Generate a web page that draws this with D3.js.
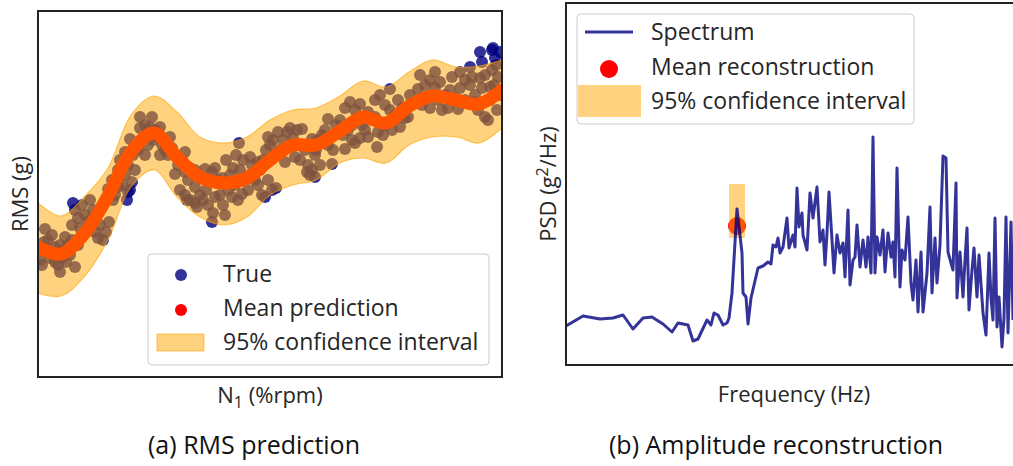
<!DOCTYPE html>
<html>
<head>
<meta charset="utf-8">
<script src="https://cdn.jsdelivr.net/npm/d3@7"></script>
<style>
  body { margin: 0; background: #fff; }
  text { font-family: "Open Sans", sans-serif; fill: #262626; }
</style>
</head>
<body>
<div id="svgWrapper"></div>
<script>
// ---- (a) RMS prediction ----
var gridN1 = [53.8, 56.1, 58.4, 60.8, 63.1, 65.4, 67.7, 70.0, 72.4, 74.7, 77.0, 79.3, 81.6, 84.0, 86.3, 88.6, 90.9, 93.2, 95.6, 97.9, 100.2];
var meanRMS = [13.0, 12.3, 14.3, 18.1, 22.5, 24.4, 22.0, 20.0, 19.4, 19.9, 21.7, 23.2, 23.2, 24.6, 26.0, 25.4, 27.1, 28.1, 27.7, 27.3, 28.7];
var upperRMS = [17.4, 16.1, 18.0, 20.9, 26.2, 28.1, 26.5, 24.0, 23.4, 24.0, 25.7, 26.7, 26.9, 28.1, 29.6, 29.0, 30.5, 31.7, 31.0, 31.1, 31.7];
var lowerRMS = [8.4, 8.1, 10.0, 13.7, 19.0, 20.7, 18.0, 16.0, 15.2, 16.0, 18.2, 19.2, 19.7, 21.4, 21.9, 21.4, 23.2, 24.0, 24.0, 23.4, 24.9];

// measured points [N1, RMS]
var trueRMS = [
  [54.0,11.7],[54.5,12.7],[54.8,13.7],[55.2,14.2],[55.5,11.5],[55.8,11.2],[56.2,11.9],[56.6,11.5],[57.0,12.2],[54.2,11.2],[55.0,11.9],[56.0,13.2],[56.8,13.2],[57.2,13.7],[54.4,13.5],[56.4,12.7],
  [57.5,16.7],[57.8,15.9],[58.2,17.2],[58.5,16.2],[58.8,15.5],[59.0,17.7],[59.3,16.7],[59.5,14.5],[59.8,13.9],[60.0,15.2],[60.3,13.7],[60.6,14.5],[58.0,14.9],[57.2,15.2],[60.9,15.5],[57.3,17.4],
  [61.2,19.7],[61.5,18.2],[61.8,20.7],[62.0,21.7],[62.2,19.2],[62.5,20.2],[62.8,21.2],[63.0,18.7],[63.3,22.2],[63.5,20.7],[63.7,22.9],[62.7,17.7],[63.2,19.5],[62.8,18.5],[61.3,17.7],
  [64.0,24.9],[64.5,25.2],[65.0,25.0],[65.5,24.7],[64.2,23.7],[64.8,23.2],[65.3,23.7],[65.8,24.0],[66.2,23.2],[66.5,22.7],[66.8,22.2],[67.2,22.9],[64.5,22.2],[66.0,22.2],[63.8,22.7],
  [67.8,21.2],[68.2,21.7],[68.5,20.5],[68.8,19.7],[69.0,20.9],[69.5,20.7],[69.8,20.2],[70.0,18.2],[70.3,17.7],[70.6,18.7],[70.8,17.2],[68.5,18.2],[69.0,17.7],[69.5,17.4],[68.0,18.7],[71.0,19.7],[71.2,20.5],[71.5,20.9],[68.7,17.7],[69.7,17.0],[71.3,16.4],
  [71.8,19.7],[72.0,18.2],[72.3,17.2],[72.5,16.2],[72.8,18.7],[73.0,20.2],[73.3,20.9],[73.5,19.2],[73.8,17.7],[74.0,20.7],[74.3,21.7],[74.5,19.9],[74.8,18.7],[75.0,20.2],[75.2,21.2],[75.5,19.7],[71.2,15.5],[73.9,23.4],[73.6,22.2],[72.6,21.7],
  [75.8,19.2],[76.0,20.7],[76.3,21.7],[76.6,22.7],[77.0,23.2],[77.3,23.7],[77.6,22.2],[78.0,22.7],[78.3,23.7],[78.7,24.5],[79.0,24.9],[79.3,23.9],[79.7,24.7],[80.0,23.2],[76.2,18.2],[76.8,19.7],[77.2,18.7],[77.6,18.9],[76.5,18.0],
  [80.0,21.7],[80.5,22.7],[80.8,21.2],[81.2,20.7],[81.5,22.2],[81.8,23.7],[82.2,24.2],[82.5,24.7],[82.8,23.2],[83.3,22.7],[83.6,25.2],[84.0,25.7],[84.3,24.2],[81.0,20.2],[82.0,21.2],[81.6,22.7],[80.7,20.5],[81.5,20.0],
  [84.5,26.9],[85.0,27.5],[85.5,26.7],[85.8,25.9],[86.2,25.2],[86.5,24.7],[84.8,24.7],[85.2,23.7],[86.0,23.9],[86.8,26.5],[87.2,25.7],[85.5,23.4],[87.7,23.0],
  [87.5,27.7],[88.0,28.2],[88.5,27.2],[89.0,26.7],[89.5,26.2],[89.8,27.7],[90.2,26.9],[90.5,25.9],[91.0,28.2],[88.5,25.2],[89.2,24.7],[87.8,24.5],[91.5,27.4],
  [92.5,29.2],[93.0,29.7],[93.5,28.9],[94.0,29.5],[94.5,28.2],[95.0,28.7],[95.5,27.9],[96.0,28.9],[96.5,27.7],[94.8,26.9],[97.0,29.2],[93.8,27.7],[93.0,26.9],[97.2,30.0],
  [97.5,28.2],[97.8,26.7],[98.2,28.9],[98.5,30.2],[99.0,27.7],[99.4,29.2],[99.7,26.7],[100.0,28.2],[98.8,25.7],[99.2,30.7],[99.6,31.2],[98.0,29.9],[97.0,31.0],[98.0,32.5],[99.3,32.9],[99.5,31.9],[99.2,32.7],[100.0,32.5],
  [55.5,13.0],[56.5,14.0],[57.8,13.2],[58.5,14.5],[59.2,15.8],[60.2,17.0],[60.8,18.8],[61.8,19.0],[62.5,22.5],[63.0,23.8],[64.0,26.0],[65.2,26.0],[66.0,25.0],[67.0,24.0],[67.5,20.3],[68.5,22.5],[69.5,19.0],[70.5,20.8],[71.5,18.0],[72.2,19.9],
  [73.2,18.0],[74.2,18.3],[75.0,22.0],[75.8,21.5],[76.8,24.0],[77.8,24.5],[78.5,21.5],[79.5,22.0],[80.2,24.8],[81.2,23.8],[82.8,25.8],[83.2,21.3],[84.5,22.8],[85.2,25.2],[86.0,27.3],[86.8,24.0],[87.5,26.0],[88.3,24.2],[89.0,28.8],[90.0,25.0],
  [90.8,26.0],[91.8,28.8],[92.2,27.2],[93.5,30.5],[94.2,26.7],[95.2,30.0],[95.8,26.8],[96.5,29.7],[97.4,27.5],[98.5,26.0],[99.0,29.0],[99.8,30.0],[98.2,31.5],[96.0,30.5],[92.0,30.2],[54.5,14.8],[56.0,10.5],[57.5,11.0]
];

// ---- (b) Amplitude reconstruction ----
var freqHz = [0,17,34,47,57,67,77,86,97,106,112,122,127,132,141,145,148,152,157,161,163,166,171,176,177,180,182,185,192,197,202,205,207,210,212,214,217,221,223,227,229,231,233,236,237,241,244,247,251,254,257,259,261,263,266,268,271,274,277,279,282,284,287,289,291,294,297,300,302,305,307,309,311,314,317,319,322,325,327,329,331,334,336,339,342,345,347,350,352,355,357,361,364,366,369,371,374,377,380,382,385,387,390,391,394,397,399,401,403,406,408,411,413,417,420,423,425,427,429,431,433,436,438,440,442,445,447];
var psd = [3.9,4.9,4.6,4.7,5.0,3.6,4.7,4.8,4.1,3.3,4.2,4.0,2.4,2.6,4.5,4.0,5.2,5.0,4.0,4.2,4.7,7.2,15.6,11.2,7.2,6.8,4.1,6.7,9.7,9.9,10.3,10.1,12.0,11.8,12.7,11.2,11.8,14.7,11.7,13.0,11.8,17.7,13.8,15.2,13.0,11.5,17.2,14.7,17.8,12.3,13.5,10.0,13.2,17.3,12.5,9.2,13.0,11.2,12.2,8.8,15.5,8.0,10.5,10.8,14.0,9.8,12.5,9.8,12.8,9.2,22.8,9.2,12.8,11.0,13.5,9.3,13.2,10.8,12.3,8.8,19.7,7.8,11.5,10.5,14.8,8.2,6.5,10.5,5.3,11.3,5.3,9.2,15.8,7.2,12.7,8.2,12.0,20.9,20.7,11.3,10.2,9.5,18.2,6.7,11.3,6.8,10.5,13.7,5.5,9.5,11.7,6.8,11.0,5.2,3.0,11.2,6.7,4.5,14.7,3.8,6.8,1.8,4.7,14.8,3.2,14.3,4.5];
var reconFreq = 171, reconMean = 13.9;
var reconBand = [163, 179];   // Hz
var reconCI = [12.7, 18.1];

var W = 1013, H = 466;
var svg = d3.select("#svgWrapper").append("svg").attr("width", W).attr("height", H);

var defs = svg.append("defs");
defs.append("clipPath").attr("id", "clipA").append("rect").attr("x", 38).attr("y", 11).attr("width", 464).attr("height", 366);
defs.append("clipPath").attr("id", "clipB").append("rect").attr("x", 566).attr("y", 3).attr("width", 450).attr("height", 362);

// ---------- panel a ----------
var xA = d3.scaleLinear().domain([53.8, 100.2]).range([38, 502]);
var yA = d3.scaleLinear().domain([0, 36.6]).range([377, 11]);

var gA = svg.append("g").attr("clip-path", "url(#clipA)");

gA.selectAll("circle.true").data(trueRMS).enter().append("circle")
  .attr("class", "true")
  .attr("cx", d => xA(d[0])).attr("cy", d => yA(d[1])).attr("r", 6)
  .attr("fill", "navy").attr("fill-opacity", 0.8);

var meanLine = d3.line().x((d, i) => xA(gridN1[i])).y(d => yA(d)).curve(d3.curveCatmullRom);
gA.append("path").datum(meanRMS).attr("d", meanLine)
  .attr("fill", "none").attr("stroke", "red").attr("stroke-width", 13).attr("stroke-linecap", "round");

var band = d3.area().x((d, i) => xA(gridN1[i])).y0((d, i) => yA(lowerRMS[i])).y1(d => yA(d)).curve(d3.curveCatmullRom);
gA.append("path").datum(upperRMS).attr("d", band)
  .attr("fill", "orange").attr("fill-opacity", 0.5)
  .attr("stroke", "orange").attr("stroke-opacity", 0.6).attr("stroke-width", 1.2);

svg.append("rect").attr("x", 38).attr("y", 11).attr("width", 464).attr("height", 366)
  .attr("fill", "none").attr("stroke", "#222").attr("stroke-width", 2);

// legend a
var lgA = svg.append("g");
lgA.append("rect").attr("x", 148).attr("y", 254).attr("width", 341).attr("height", 111).attr("rx", 4)
  .attr("fill", "white").attr("fill-opacity", 0.8).attr("stroke", "#ccc");
lgA.append("circle").attr("cx", 181).attr("cy", 275).attr("r", 6).attr("fill", "navy").attr("fill-opacity", 0.8);
lgA.append("circle").attr("cx", 181).attr("cy", 310).attr("r", 6).attr("fill", "red");
lgA.append("rect").attr("x", 157).attr("y", 334).attr("width", 47).attr("height", 17)
  .attr("fill", "orange").attr("fill-opacity", 0.5).attr("stroke", "orange").attr("stroke-opacity", 0.6);
["True", "Mean prediction", "95% confidence interval"].forEach(function(t, i) {
  lgA.append("text").attr("x", 223).attr("y", 274 + i * 34).attr("dy", "0.35em")
    .style("font-size", "23px").text(t);
});

svg.append("text").attr("transform", "translate(20,194) rotate(-90)").attr("text-anchor", "middle")
  .attr("dy", "0.35em").style("font-size", "22px").text("RMS (g)");
var nl = svg.append("text").attr("x", 270).attr("y", 403).attr("text-anchor", "middle").style("font-size", "22px");
nl.append("tspan").text("N");
nl.append("tspan").attr("dy", 5).style("font-size", "16px").text("1");
nl.append("tspan").attr("dy", -5).text(" (%rpm)");

// ---------- panel b ----------
var xB = d3.scaleLinear().domain([0, 450]).range([566, 1016]);
var yB = d3.scaleLinear().domain([0, 36.2]).range([365, 3]);
var gB = svg.append("g").attr("clip-path", "url(#clipB)");

gB.append("circle").attr("cx", xB(reconFreq)).attr("cy", yB(reconMean)).attr("r", 9)
  .attr("fill", "red");
gB.append("rect").attr("x", xB(reconBand[0])).attr("y", yB(reconCI[1]))
  .attr("width", xB(reconBand[1]) - xB(reconBand[0])).attr("height", yB(reconCI[0]) - yB(reconCI[1]))
  .attr("fill", "orange").attr("fill-opacity", 0.5);

var specLine = d3.line().x((d, i) => xB(freqHz[i])).y(d => yB(d));
gB.append("path").datum(psd).attr("d", specLine)
  .attr("fill", "none").attr("stroke", "navy").attr("stroke-opacity", 0.8)
  .attr("stroke-width", 3).attr("stroke-linejoin", "round");

svg.append("rect").attr("x", 566).attr("y", 3).attr("width", 460).attr("height", 362)
  .attr("fill", "none").attr("stroke", "#222").attr("stroke-width", 2);

// legend b
var lgB = svg.append("g");
lgB.append("rect").attr("x", 577).attr("y", 14).attr("width", 337).attr("height", 110).attr("rx", 4)
  .attr("fill", "white").attr("fill-opacity", 0.8).attr("stroke", "#ccc");
lgB.append("line").attr("x1", 585).attr("x2", 633).attr("y1", 32).attr("y2", 32)
  .attr("stroke", "navy").attr("stroke-opacity", 0.8).attr("stroke-width", 3);
lgB.append("circle").attr("cx", 609).attr("cy", 69).attr("r", 9).attr("fill", "red");
lgB.append("rect").attr("x", 578).attr("y", 85).attr("width", 63).attr("height", 32)
  .attr("fill", "orange").attr("fill-opacity", 0.5);
["Spectrum", "Mean reconstruction", "95% confidence interval"].forEach(function(t, i) {
  lgB.append("text").attr("x", 651).attr("y", 32 + i * 34.5).attr("dy", "0.35em")
    .style("font-size", "23px").text(t);
});

var pl = svg.append("text").attr("transform", "translate(548,184) rotate(-90)").attr("text-anchor", "middle")
  .attr("dy", "0.35em").style("font-size", "22px");
pl.append("tspan").text("PSD (g");
pl.append("tspan").attr("dy", -8).style("font-size", "16px").text("2");
pl.append("tspan").attr("dy", 8).text("/Hz)");
svg.append("text").attr("x", 794).attr("y", 402).attr("text-anchor", "middle").style("font-size", "22px").text("Frequency (Hz)");

// captions
svg.append("text").attr("x", 254).attr("y", 454).attr("text-anchor", "middle")
  .style("font-size", "25px").style("fill", "#111").text("(a) RMS prediction");
svg.append("text").attr("x", 776).attr("y", 454).attr("text-anchor", "middle")
  .style("font-size", "25px").style("fill", "#111").text("(b) Amplitude reconstruction");
</script>
</body>
</html>
